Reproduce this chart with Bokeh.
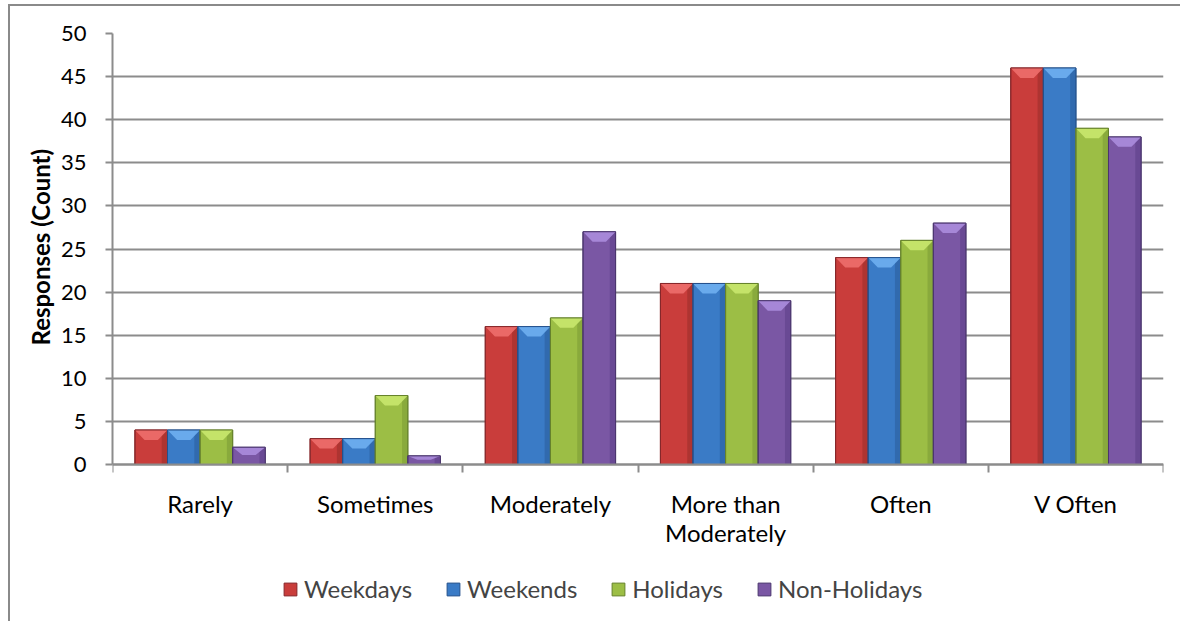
import numpy as np
from bokeh.plotting import figure
from bokeh.models import Range1d, FixedTicker, Legend, LegendItem, ColumnDataSource, Title
from bokeh.embed import file_html
from bokeh.resources import INLINE

# ---- data -------------------------------------------------------------
categories = ["Rarely", "Sometimes", "Moderately", "More than\nModerately", "Often", "V Often"]
series_names = ["Weekdays", "Weekends", "Holidays", "Non-Holidays"]
weekdays = [4, 3, 16, 21, 24, 46]
weekends = [4, 3, 16, 21, 24, 46]
holidays = [4, 8, 17, 21, 26, 39]
non_holidays = [2, 1, 27, 19, 28, 38]
y_ticks = [0, 5, 10, 15, 20, 25, 30, 35, 40, 45, 50]

# ---- styling ----------------------------------------------------------
body_colors = ["#C93D3B", "#3A7BC6", "#9CBE45", "#7A57A4"]
bevel_colors = ["#EC6B69", "#6CADEE", "#C6E56B", "#A98ADA"]
edge_colors = ["#86272A", "#24518C", "#66822C", "#4B366E"]
shade_colors = ["#A83230", "#2F67A8", "#84A53A", "#654690"]
FONT = "Lato"
GRID = "#8C8C8C"

# geometry of the plotting frame (pixels); the frame runs down past the
# value axis so the category labels and legend can sit inside it
W, H = 1172, 617
B_LEFT, B_RIGHT, B_TOP, B_BOTTOM = 102, 19, 27, 3
frame_h = H - B_TOP - B_BOTTOM
zero_px = 431                      # distance of y = 0 from the frame top
y_max = 50
y_min = -y_max * (frame_h - zero_px) / zero_px

p = figure(width=W, height=H, output_backend="svg", toolbar_location=None,
           x_range=Range1d(0, 6), y_range=Range1d(y_min, y_max),
           min_border_left=B_LEFT, min_border_right=B_RIGHT, min_border_top=B_TOP,
           min_border_bottom=B_BOTTOM, outline_line_color=None)
# chart-area border: only its left and top edges fall inside the window
p.margin = (4, 0, 0, 8)
p.styles = {"border-left": "2px solid #8A8A8A", "border-top": "2px solid #8A8A8A"}
p.background_fill_color = "white"
p.border_fill_color = "white"

centers = np.arange(len(categories)) + 0.5
bar_w = 0.186
bevel_h = 1.15
inset = 0.055
shade_w = 0.03

all_series = [weekdays, weekends, holidays, non_holidays]
renderers = []
for i, vals in enumerate(all_series):
    vals = np.array(vals, dtype=float)
    xs = centers + (i - 1.5) * bar_w
    src = ColumnDataSource(dict(x=xs, top=vals))
    r = p.vbar(x="x", top="top", bottom=0, width=bar_w, source=src,
               fill_color=body_colors[i], line_color=edge_colors[i], line_width=1)
    renderers.append(r)
    # darker strip on the right side of each bar
    p.vbar(x=xs + bar_w / 2 - shade_w / 2 - 0.003, top=vals, bottom=0, width=shade_w,
           fill_color=shade_colors[i], line_color=None, fill_alpha=0.8)
    # light bevel along the top edge
    bxs, bys = [], []
    for x0, v in zip(xs, vals):
        h = min(bevel_h, v * 0.45)
        bxs.append([x0 - bar_w / 2, x0 + bar_w / 2, x0 + bar_w / 2 - inset, x0 - bar_w / 2 + inset])
        bys.append([v, v, v - h, v - h])
    p.patches(bxs, bys, fill_color=bevel_colors[i], line_color=None, fill_alpha=0.95)
    # outline again on top
    p.vbar(x=xs, top=vals, bottom=0, width=bar_w, fill_color=None,
           line_color=edge_colors[i], line_width=1)

# ---- axes -------------------------------------------------------------
p.yaxis.ticker = FixedTicker(ticks=y_ticks)
p.yaxis.bounds = (0, y_max)
p.yaxis.major_label_text_font = FONT
p.yaxis.major_label_text_font_size = "22px"
p.yaxis.major_label_text_color = "black"
p.yaxis.major_label_standoff = 19
p.yaxis.axis_line_color = GRID
p.yaxis.axis_line_width = 2
p.yaxis.major_tick_line_color = GRID
p.yaxis.major_tick_line_width = 2
p.yaxis.major_tick_out = 7
p.yaxis.major_tick_in = 0
p.yaxis.minor_tick_line_color = None

# value-axis title, lifted from the frame's bottom so it sits beside the 0-50 span
p.add_layout(Title(text="Responses (Count)", align="left", offset=275,
                   text_font=FONT, text_font_size="24px", text_font_style="bold",
                   text_color="black", standoff=6), "left")

p.xaxis.fixed_location = 0
p.xaxis.ticker = FixedTicker(ticks=list(centers), minor_ticks=list(range(len(categories) + 1)))
p.xaxis.major_label_overrides = {float(c): lab for c, lab in zip(centers, categories)}
p.xaxis.major_label_text_font = FONT
p.xaxis.major_label_text_font_size = "24px"
p.xaxis.major_label_text_line_height = 1.0
p.xaxis.major_label_text_color = "black"
p.xaxis.major_label_standoff = 16
p.xaxis.major_tick_line_color = None
p.xaxis.minor_tick_line_color = GRID
p.xaxis.minor_tick_line_width = 2
p.xaxis.minor_tick_out = 8
p.xaxis.minor_tick_in = 0
p.xaxis.axis_line_color = GRID
p.xaxis.axis_line_width = 2

p.xgrid.grid_line_color = None
p.ygrid.ticker = FixedTicker(ticks=y_ticks)
p.ygrid.grid_line_color = GRID
p.ygrid.grid_line_width = 2

# ---- legend, beneath the category labels -----------------------------
legend = Legend(items=[LegendItem(label=n, renderers=[r]) for n, r in zip(series_names, renderers)],
                orientation="horizontal", location=(170, 17),
                label_text_font=FONT, label_text_font_size="24px",
                glyph_width=16, glyph_height=16, label_standoff=6, spacing=33,
                padding=0, margin=0,
                border_line_color=None, background_fill_alpha=0)
p.add_layout(legend, "center")

open("out.html", "w").write(file_html(p, INLINE))
